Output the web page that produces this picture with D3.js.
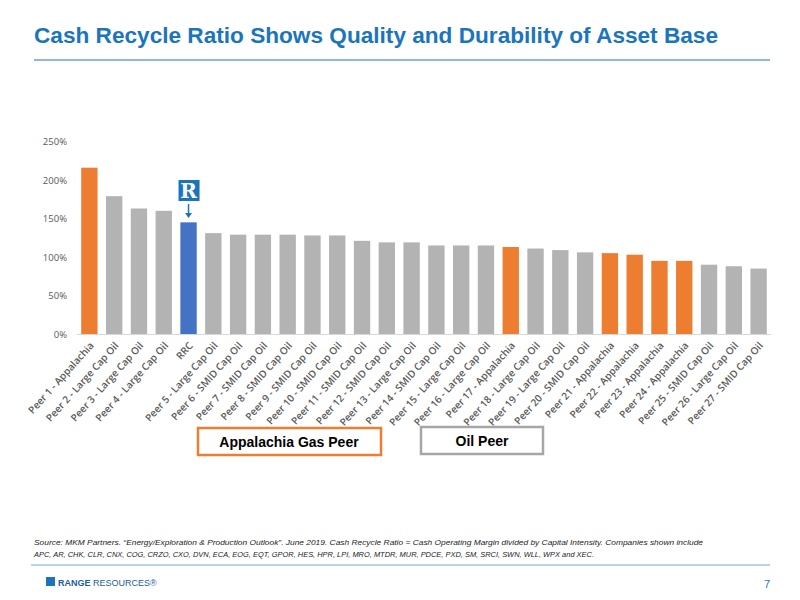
<!DOCTYPE html>
<html><head><meta charset="utf-8">
<script src="https://cdn.jsdelivr.net/npm/d3@7"></script>
<style>body{margin:0;background:#fff}svg{display:block}</style></head>
<body><svg id="c" width="800" height="600"></svg>
<script>
const categories=["Peer 1 - Appalachia","Peer 2 - Large Cap Oil","Peer 3 - Large Cap Oil","Peer 4 - Large Cap Oil","RRC","Peer 5 - Large Cap Oil","Peer 6 - SMID Cap Oil","Peer 7 - SMID Cap Oil","Peer 8 - SMID Cap Oil","Peer 9 - SMID Cap Oil","Peer 10 - SMID Cap Oil","Peer 11 - SMID Cap Oil","Peer 12 - SMID Cap Oil","Peer 13 - Large Cap Oil","Peer 14 - SMID Cap Oil","Peer 15 - Large Cap Oil","Peer 16 - Large Cap Oil","Peer 17 - Appalachia","Peer 18 - Large Cap Oil","Peer 19 - Large Cap Oil","Peer 20 - SMID Cap Oil","Peer 21 - Appalachia","Peer 22 - Appalachia","Peer 23 - Appalachia","Peer 24 - Appalachia","Peer 25 - SMID Cap Oil","Peer 26 - Large Cap Oil","Peer 27 - SMID Cap Oil"];
const values=[216,179,163,160,145,131,129,129,129,128,128,121,119,119,115,115,115,113,111,109,106,105,103,95,95,90,88,85];
const groups=["app","oil","oil","oil","rrc","oil","oil","oil","oil","oil","oil","oil","oil","oil","oil","oil","oil","app","oil","oil","oil","app","app","app","app","oil","oil","oil"];
const yTicks=[0,50,100,150,200,250];
const colors={app:"#ED7D31",oil:"#B3B3B3",rrc:"#4472C4"};
const svg=d3.select("#c");
svg.append("text").attr("x",34).attr("y",43).attr("fill","#1B75BC").attr("font-family","Liberation Sans, Arial").attr("font-weight","bold").attr("font-size",22).attr("textLength",684).attr("lengthAdjust","spacingAndGlyphs").text("Cash Recycle Ratio Shows Quality and Durability of Asset Base");
svg.append("line").attr("x1",34).attr("x2",770).attr("y1",60).attr("y2",60).attr("stroke","#1B75BC").attr("stroke-width",1);
const x=d3.scaleBand().domain(categories).range([77,771]).paddingInner(0.34).paddingOuter(0.17);
const y=d3.scaleLinear().domain([0,250]).range([334,141.5]);
const g=svg.append("g");
g.append("g").attr("transform","translate(70,0)").call(d3.axisLeft(y).tickValues(yTicks).tickSize(0).tickFormat(d=>d+"%"))
 .call(a=>{a.select(".domain").remove();a.selectAll("text").attr("font-family","Open Sans, Calibri, sans-serif").attr("font-size",9.5).attr("fill","#595959");});
g.selectAll("rect").data(categories).join("rect").attr("x",d=>x(d)).attr("width",x.bandwidth())
 .attr("y",(d,i)=>y(values[i])).attr("height",(d,i)=>y(0)-y(values[i])).attr("fill",(d,i)=>colors[groups[i]]);
g.append("line").attr("x1",77).attr("x2",771).attr("y1",334.5).attr("y2",334.5).attr("stroke","#D9D9D9");
g.selectAll(".xl").data(categories).join("text").attr("font-family","Open Sans, Calibri, sans-serif").attr("font-size",10).attr("font-weight",600).attr("fill","#595959")
 .attr("text-anchor","end").attr("transform",d=>`translate(${x(d)+x.bandwidth()/2+5},${346}) rotate(-48)`).text(d=>d);
const rx=x("RRC")+x.bandwidth()/2;
svg.append("rect").attr("x",rx-10).attr("y",180).attr("width",21).attr("height",21).attr("fill","#1B75BC");
svg.append("text").attr("x",rx).attr("y",198).attr("text-anchor","middle").attr("fill","#fff").attr("font-family","DejaVu Serif").attr("font-weight","bold").attr("font-size",20).text("R");
svg.append("line").attr("x1",rx).attr("x2",rx).attr("y1",204).attr("y2",215).attr("stroke","#1B75BC").attr("stroke-width",1.5);
svg.append("path").attr("d",`M${rx-3.5},${213}L${rx+3.5},${213}L${rx},${218}Z`).attr("fill","#1B75BC");
svg.append("rect").attr("x",198).attr("y",428).attr("width",183).attr("height",27).attr("fill","#fff").attr("stroke","#ED7D31").attr("stroke-width",2.5);
svg.append("text").attr("x",289).attr("y",447).attr("text-anchor","middle").attr("font-family","Liberation Sans, Arial").attr("font-weight","bold").attr("font-size",14).text("Appalachia Gas Peer");
svg.append("rect").attr("x",421).attr("y",427).attr("width",122).attr("height",27).attr("fill","#fff").attr("stroke","#A6A6A6").attr("stroke-width",2.5);
svg.append("text").attr("x",482).attr("y",446).attr("text-anchor","middle").attr("font-family","Liberation Sans, Arial").attr("font-weight","bold").attr("font-size",14).text("Oil Peer");
const ft=svg.append("text").attr("font-family","Liberation Sans Narrow, Liberation Sans, Arial").attr("font-style","italic").attr("font-size",8).attr("fill","#222");
ft.append("tspan").attr("x",34).attr("y",545).attr("textLength",669).attr("lengthAdjust","spacingAndGlyphs").text("Source: MKM Partners. \u201CEnergy/Exploration & Production Outlook\u201D. June 2019. Cash Recycle Ratio = Cash Operating Margin divided by Capital Intensity. Companies shown include");
ft.append("tspan").attr("x",34).attr("y",557).attr("textLength",560).attr("lengthAdjust","spacingAndGlyphs").text("APC, AR, CHK, CLR, CNX, COG, CRZO, CXO, DVN, ECA, EOG, EQT, GPOR, HES, HPR, LPI, MRO, MTDR, MUR, PDCE, PXD, SM, SRCI, SWN, WLL, WPX and XEC.");
svg.append("line").attr("x1",31).attr("x2",770).attr("y1",565).attr("y2",565).attr("stroke","#6BAED6").attr("stroke-width",1);
svg.append("rect").attr("x",46).attr("y",577).attr("width",9).attr("height",9).attr("fill","#1B75BC");
svg.append("text").attr("x",58).attr("y",586).attr("font-family","Liberation Sans, Arial").attr("font-size",9).attr("fill","#1B5E9B").html('<tspan font-weight="bold">RANGE</tspan> RESOURCES\u00AE');
svg.append("text").attr("x",770).attr("y",588).attr("text-anchor","end").attr("font-family","Liberation Sans, Arial").attr("font-size",11).attr("fill","#1B75BC").text("7");
</script></body></html>
